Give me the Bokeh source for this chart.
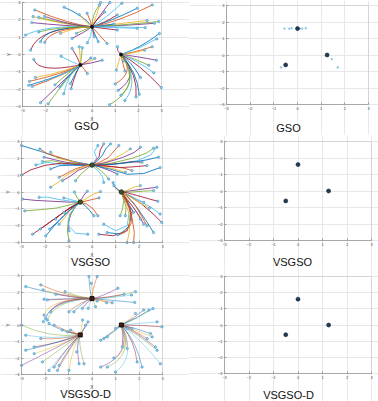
from bokeh.plotting import figure
from bokeh.layouts import column, row
from bokeh.models import FixedTicker, Label, BoxAnnotation
from bokeh.embed import file_html
from bokeh.resources import INLINE

# ---------------- data ----------------
peak_x = [0.0, -0.5, 1.25]
peak_y = [1.6, -0.6, 0.0]
ticks = [-3, -2, -1, 0, 1, 2, 3]
titles = ["GSO", "VSGSO", "VSGSO-D"]

# GSO: (start x, start y, bend x, bend y, target peak)
gso_paths = [
    (-1.2, 2.73, -0.3, 2.2, 0), (-2.47, 2.57, -1.0, 1.75, 0), (-2.54, 2.19, -1.2, 1.7, 0),
    (-2.6, 1.84, -1.2, 1.65, 0), (-2.3, 2.15, -1.0, 1.7, 0), (-2.87, 1.12, -2.0, 1.7, 0),
    (-2.65, 0.25, -2.3, 1.6, 0), (-2.22, 0.74, -2.0, 1.6, 0), (-2.04, 0.70, -1.8, 1.5, 0),
    (-1.36, 1.22, -0.6, 1.6, 0), (-0.86, 0.93, -0.3, 1.3, 0), (-0.67, 1.22, -0.2, 1.5, 0),
    (-0.2, 0.68, 0.0, 1.1, 0), (0.1, 1.03, 0.05, 1.3, 0), (0.27, 0.74, 0.1, 1.2, 0),
    (0.65, 0.64, 0.2, 1.3, 0), (0.37, 3.0, 0.2, 2.2, 0), (0.77, 3.0, 0.3, 2.2, 0),
    (0.32, 2.86, 0.0, 2.3, 0), (1.29, 2.96, 0.6, 2.1, 0), (1.09, 2.28, 0.5, 1.8, 0),
    (1.95, 2.67, 0.8, 1.9, 0), (2.6, 2.86, 1.2, 1.9, 0), (2.38, 1.96, 1.0, 1.75, 0),
    (2.7, 1.8, 1.2, 1.65, 0), (2.88, 1.9, 1.4, 1.7, 0), (1.95, 1.51, 0.9, 1.55, 0),
    (1.09, 1.41, 0.5, 1.5, 0), (0.94, 1.76, 0.4, 1.65, 0), (-0.21, 2.38, -0.05, 1.9, 0),
    (-0.55, 2.3, -0.2, 1.8, 0), (-2.05, 2.2, -1.0, 1.7, 0), (-2.3, 1.3, -1.5, 1.6, 0),
    (2.3, 1.55, 1.0, 1.6, 0), (0.55, 2.45, 0.15, 2.0, 0),
    (2.91, 1.21, 2.0, 0.3, 2), (2.6, 0.45, 1.8, 0.1, 2), (2.27, 0.25, 1.7, 0.05, 2),
    (2.78, -0.33, 1.9, -0.1, 2), (2.45, -0.62, 1.8, -0.2, 2), (2.67, -1.06, 1.9, -0.3, 2),
    (2.99, -1.91, 2.0, -0.5, 2), (2.09, -1.33, 1.7, -0.4, 2), (1.42, -0.95, 1.3, -0.4, 2),
    (1.37, -0.37, 1.3, -0.1, 2), (1.13, -2.07, 2.1, -1.2, 2), (0.76, -2.9, 2.2, -1.8, 2),
    (1.42, -2.65, 2.1, -1.5, 2), (1.9, -2.45, 2.0, -1.2, 2), (2.04, -2.3, 1.95, -1.0, 2),
    (1.0, -1.7, 1.9, -1.0, 2), (1.05, -0.9, 1.15, -0.4, 2), (1.1, 0.45, 1.05, 0.2, 2),
    (1.25, -2.35, 2.05, -1.4, 2), (2.8, 0.9, 2.0, 0.3, 2),
    (-2.51, -0.29, -2.3, -1.1, 1), (-2.73, -1.78, -1.2, -1.2, 1), (-2.58, -1.84, -1.2, -1.2, 1),
    (-2.44, -1.33, -1.2, -1.0, 1), (-2.22, -2.78, -1.0, -1.2, 1), (-1.89, -2.84, -1.0, -1.2, 1),
    (-1.22, -2.26, -1.0, -1.0, 1), (-0.9, -1.97, -0.7, -1.0, 1), (-0.93, -1.68, -0.65, -0.9, 1),
    (-0.2, -1.1, -0.35, -0.8, 1), (0.12, -0.23, -0.2, -0.5, 1), (0.44, -0.33, 0.0, -0.5, 1),
    (-0.42, 0.39, -0.45, -0.2, 1), (-1.33, -0.1, -0.8, -0.5, 1), (-0.86, 0.35, -0.6, -0.2, 1),
    (-1.39, -1.87, -0.9, -1.0, 1), (-2.7, -1.55, -1.2, -1.1, 1), (-0.55, 0.45, -0.5, -0.1, 1),
    (-0.05, -0.2, -0.25, -0.45, 1), (-1.6, -1.75, -1.0, -1.0, 1), (-2.0, -1.5, -1.1, -1.1, 1),
]

# VSGSO: wandering paths (waypoints), each ends at its target peak
vsgso_paths = [
    ([(-3, 2.76), (-2.2, 2.42), (-1.5, 2.08), (-0.8, 1.82)], 0),
    ([(-2.22, 2.56), (-1.9, 2.28), (-1.4, 2.07), (-0.7, 1.74)], 0),
    ([(-1.76, 2.36), (-1.5, 2.02), (-1.0, 1.86), (-0.5, 1.69)], 0),
    ([(-2.04, 2.07), (-1.6, 1.92), (-1.1, 1.76), (-0.5, 1.68)], 0),
    ([(-2.11, 1.81), (-1.7, 1.86), (-1.2, 1.71), (-0.6, 1.66)], 0),
    ([(-2.39, 1.61), (-1.9, 1.76), (-1.3, 1.64), (-0.7, 1.63)], 0),
    ([(-3, 1.01), (-2.6, 1.32), (-2.0, 1.58), (-1.3, 1.71), (-0.6, 1.62)], 0),
    ([(-1.76, 1.37), (-1.4, 1.56), (-0.9, 1.59), (-0.4, 1.58)], 0),
    ([(-1.4, 0.87), (-1.0, 1.17), (-0.7, 1.38), (-0.3, 1.55)], 0),
    ([(-1.76, 0.28), (-1.4, 0.62), (-1.1, 0.98), (-0.6, 1.36), (-0.25, 1.55)], 0),
    ([(-1.26, 0.67), (-0.9, 0.96), (-0.6, 1.28), (-0.2, 1.5)], 0),
    ([(-0.7, 0.67), (-0.5, 1.02), (-0.3, 1.28), (-0.1, 1.5)], 0),
    ([(0.25, 2.76), (0.1, 2.4), (0.2, 2.0), (0.05, 1.75)], 0),
    ([(0.5, 2.86), (0.35, 2.5), (0.3, 2.1), (0.1, 1.75)], 0),
    ([(0.79, 2.86), (0.6, 2.6), (0.45, 2.2), (0.2, 1.8)], 0),
    ([(1.14, 2.76), (0.95, 2.45), (0.7, 2.05), (0.3, 1.75)], 0),
    ([(1.63, 2.56), (1.35, 2.3), (0.9, 1.95), (0.4, 1.7)], 0),
    ([(2.06, 2.66), (1.8, 2.35), (1.3, 2.05), (0.6, 1.75)], 0),
    ([(2.62, 2.6), (2.3, 2.3), (1.7, 2.0), (0.8, 1.7)], 0),
    ([(2.76, 2.66), (2.5, 2.2), (1.9, 1.85), (0.9, 1.65)], 0),
    ([(2.13, 1.77), (1.7, 1.8), (1.2, 1.7), (0.5, 1.62)], 0),
    ([(2.83, 2.07), (2.3, 1.9), (1.6, 1.75), (0.7, 1.62)], 0),
    ([(1.7, 1.27), (1.4, 1.4), (1.0, 1.5), (0.4, 1.58)], 0),
    ([(1.42, 1.17), (1.1, 1.3), (0.7, 1.45), (0.3, 1.55)], 0),
    ([(1.07, 1.07), (0.8, 1.25), (0.5, 1.4), (0.2, 1.55)], 0),
    ([(0.71, 0.77), (0.55, 1.05), (0.35, 1.3), (0.15, 1.5)], 0),
    ([(0.5, 0.57), (0.45, 0.9), (0.3, 1.2), (0.1, 1.45)], 0),
    ([(2.34, 1.57), (1.8, 1.5), (1.2, 1.45), (0.5, 1.55)], 0),
    ([(2.9, 1.45), (2.2, 1.1), (1.5, 1.05), (0.8, 1.35)], 0),
    ([(0.93, 0.38), (1.0, 0.25), (1.1, 0.1)], 2),
    ([(2.06, 0.38), (1.8, 0.3), (1.5, 0.1)], 2),
    ([(2.76, 0.28), (2.3, 0.2), (1.8, 0.1), (1.45, 0.03)], 2),
    ([(2.62, 0.08), (2.2, 0.05), (1.7, 0.0)], 2),
    ([(2.9, -1.31), (2.5, -0.9), (2.0, -0.5), (1.5, -0.15)], 2),
    ([(2.97, -1.81), (2.6, -1.3), (2.1, -0.7), (1.55, -0.2)], 2),
    ([(2.62, -2.41), (2.3, -1.7), (1.9, -0.9), (1.5, -0.25)], 2),
    ([(2.34, -2.01), (2.1, -1.4), (1.8, -0.7), (1.45, -0.2)], 2),
    ([(2.06, -1.61), (1.85, -1.1), (1.6, -0.6), (1.4, -0.2)], 2),
    ([(1.77, -1.21), (1.6, -0.8), (1.45, -0.4)], 2),
    ([(1.42, -1.41), (1.45, -0.9), (1.35, -0.4)], 2),
    ([(0.5, -1.91), (1.0, -2.3), (1.5, -2.0), (1.6, -1.0), (1.35, -0.3)], 2),
    ([(0.29, -2.51), (0.9, -2.6), (1.5, -2.3), (1.7, -1.3), (1.4, -0.3)], 2),
    ([(0.64, -2.41), (1.2, -2.5), (1.6, -2.0), (1.65, -1.0), (1.35, -0.25)], 2),
    ([(1.77, -3.0), (1.8, -2.4), (1.7, -1.5), (1.5, -0.6)], 2),
    ([(1.49, -3.0), (1.6, -2.3), (1.6, -1.4), (1.4, -0.5)], 2),
    ([(2.2, -1.91), (2.0, -1.4), (1.7, -0.8), (1.4, -0.3)], 2),
    ([(1.2, -1.41), (1.3, -1.0), (1.35, -0.5)], 2),
    ([(2.2, -0.62), (1.9, -0.45), (1.6, -0.2)], 2),
    ([(2.8, -0.55), (2.4, -0.4), (1.9, -0.2), (1.5, -0.05)], 2),
    ([(0.9, 0.55), (0.95, 0.35), (1.1, 0.15)], 2),
    ([(1.1, -2.55), (1.4, -2.4), (1.7, -1.8), (1.6, -0.9), (1.35, -0.3)], 2),
    ([(2.45, -0.95), (2.1, -0.7), (1.7, -0.35)], 2),
    ([(-2.96, -0.42), (-2.4, -0.5), (-1.7, -0.55), (-1.0, -0.6)], 1),
    ([(-2.86, -1.12), (-2.2, -1.05), (-1.5, -0.95), (-0.9, -0.75)], 1),
    ([(-2.25, -0.32), (-1.9, -0.3), (-1.4, -0.45), (-0.9, -0.55)], 1),
    ([(-2.53, -2.51), (-2.0, -2.0), (-1.4, -1.4), (-0.9, -0.9)], 1),
    ([(-1.97, -2.61), (-1.6, -2.0), (-1.2, -1.4), (-0.8, -0.9)], 1),
    ([(-1.55, -1.61), (-1.3, -1.3), (-1.0, -1.0), (-0.7, -0.75)], 1),
    ([(-1.4, -1.91), (-1.15, -1.5), (-0.95, -1.1), (-0.7, -0.8)], 1),
    ([(-0.98, -2.31), (-1.0, -1.8), (-0.9, -1.3), (-0.7, -0.85)], 1),
    ([(-0.98, -2.9), (-1.05, -2.3), (-1.0, -1.6), (-0.75, -0.95)], 1),
    ([(-0.18, -2.51), (-0.7, -2.45), (-1.0, -2.0), (-0.95, -1.3), (-0.7, -0.85)], 1),
    ([(-1.19, -1.21), (-1.0, -1.0), (-0.75, -0.8)], 1),
    ([(0.08, -1.41), (-0.1, -1.1), (-0.3, -0.8)], 1),
    ([(0.25, -1.41), (0.05, -1.0), (-0.25, -0.7)], 1),
    ([(0.36, 0.02), (0.1, -0.1), (-0.2, -0.35)], 1),
    ([(-0.2, 0.05), (-0.35, -0.2), (-0.45, -0.45)], 1),
    ([(-0.75, 0.0), (-0.65, -0.3), (-0.55, -0.5)], 1),
    ([(-1.2, -0.35), (-0.9, -0.45), (-0.65, -0.55)], 1),
    ([(-2.2, -2.2), (-1.7, -1.7), (-1.2, -1.2), (-0.8, -0.85)], 1),
    ([(-1.8, -2.2), (-1.4, -1.7), (-1.05, -1.2), (-0.75, -0.85)], 1),
    ([(0.3, -0.35), (0.0, -0.45), (-0.3, -0.55)], 1),
]

# VSGSO-D: (start x, start y, bend x, bend y, target peak)
vsd_paths = [
    (-2.82, 2.33, -1.2, 1.7, 0), (-2.18, 2.43, -1.0, 1.7, 0), (-2.08, 2.13, -1.0, 1.65, 0),
    (-1.54, 1.86, -0.8, 1.65, 0), (-1.15, 2.02, -0.6, 1.7, 0), (-2.04, 1.56, -1.0, 1.6, 0),
    (-1.9, 1.52, -0.9, 1.6, 0), (-0.13, 2.94, -0.1, 2.0, 0), (0.22, 2.94, 0.0, 2.1, 0),
    (-0.03, 2.53, 0.05, 2.0, 0), (1.1, 2.23, 0.4, 1.7, 0), (1.85, 2.02, 0.8, 1.6, 0),
    (1.68, 1.82, 0.7, 1.6, 0), (1.36, 1.86, 0.6, 1.65, 0), (1.82, 1.37, 0.8, 1.5, 0),
    (0.86, 1.35, 0.4, 1.5, 0), (0.62, 1.35, 0.3, 1.5, 0), (0.22, 1.45, 0.1, 1.55, 0),
    (0.15, 1.11, 0.1, 1.4, 0), (-0.16, 1.01, -0.1, 1.35, 0), (-0.41, 1.01, -0.2, 1.4, 0),
    (-0.77, 0.8, -0.4, 1.4, 0), (-0.98, 0.8, -0.5, 1.4, 0),
    (-2.04, 0.6, -1.8, 1.6, 0), (-1.97, 0.4, -1.7, 1.55, 0), (-1.9, 0.3, -1.6, 1.5, 0),
    (-2.07, 0.2, -1.8, 1.5, 0), (-1.76, 0.8, -1.5, 1.6, 0),
    (-1.83, 0.09, -1.3, -0.4, 1), (-1.61, -0.01, -1.1, -0.4, 1), (-1.26, -0.31, -0.9, -0.5, 1),
    (-1.05, -0.41, -0.8, -0.5, 1), (-3.0, -0.01, -1.8, -0.8, 1), (-2.82, -0.62, -1.6, -0.9, 1),
    (-2.46, -1.33, -1.4, -1.1, 1), (-2.82, -1.53, -1.5, -1.1, 1), (-2.18, -0.82, -1.3, -0.9, 1),
    (-2.46, -1.74, -1.3, -1.2, 1), (-3.0, -2.45, -1.4, -1.3, 1), (-2.11, -2.24, -1.1, -1.2, 1),
    (-1.83, -2.75, -1.0, -1.3, 1), (-1.61, -2.55, -1.0, -1.2, 1), (-1.4, -2.45, -0.9, -1.2, 1),
    (-1.47, -2.75, -0.9, -1.3, 1), (-0.98, -2.75, -0.8, -1.2, 1), (-0.55, -2.35, -0.7, -1.1, 1),
    (-0.34, -2.35, -0.6, -1.0, 1), (-0.65, -1.63, -0.6, -1.0, 1), (-0.17, 0.19, -0.35, -0.3, 1),
    (-0.27, -0.01, -0.4, -0.35, 1), (-0.91, -0.31, -0.7, -0.5, 1), (-0.4, 0.3, -0.45, -0.2, 1),
    (0.37, -0.92, 0.9, -0.4, 2), (0.51, -0.82, 0.95, -0.4, 2), (0.65, -0.72, 1.0, -0.35, 2),
    (1.29, -1.33, 1.35, -0.6, 2), (1.0, -0.21, 1.1, -0.1, 2), (1.5, -0.21, 1.4, -0.1, 2),
    (1.85, 0.7, 1.6, 0.3, 2), (2.2, 0.91, 1.8, 0.4, 2), (2.42, 0.91, 1.9, 0.35, 2),
    (2.77, 0.19, 2.0, 0.1, 2), (2.98, -0.11, 2.1, 0.0, 2), (2.49, -0.52, 1.9, -0.2, 2),
    (2.35, -0.82, 1.8, -0.3, 2), (2.56, -0.72, 1.9, -0.3, 2), (2.7, -1.33, 2.0, -0.5, 2),
    (2.77, -1.53, 2.0, -0.6, 2), (2.91, -2.35, 2.1, -0.9, 2), (1.92, -2.24, 1.8, -0.9, 2),
    (2.13, -2.55, 1.9, -1.0, 2), (1.5, -1.43, 1.5, -0.6, 2), (0.93, -2.0, 1.7, -1.4, 2),
    (0.37, -2.55, 1.7, -1.8, 2), (0.65, -2.55, 1.8, -1.8, 2), (1.0, -2.85, 1.9, -1.9, 2),
    (1.71, -0.21, 1.5, -0.1, 2), (2.6, 1.0, 1.9, 0.4, 2),
]

# right-hand panels: final particle positions
gso_final_x = [0.0, -0.5, 1.25, -0.55, -0.35, -0.25, 0.1, 0.2, 0.35, 1.45, 1.7, -0.7]
gso_final_y = [1.6, -0.6, 0.0, 1.6, 1.6, 1.62, 1.6, 1.6, 1.62, -0.25, -0.75, -0.75]
gso_final_big = [1, 1, 1, 0, 0, 0, 0, 0, 0, 0, 0, 0]
vsgso_final_x = [0.0, -0.5, 1.25, 1.2]
vsgso_final_y = [1.6, -0.6, 0.0, 0.03]
vsgso_final_big = [1, 1, 1, 0]
vsd_final_x = [0.0, -0.5, 1.25]
vsd_final_y = [1.6, -0.6, 0.0]
vsd_final_big = [1, 1, 1]

# ---------------- style / layout ----------------
PAL = ["#0072BD", "#D95319", "#EDB120", "#7E2F8E", "#77AC30", "#4DBEEE", "#A2142F"]
FONT = "Liberation Sans"
CELL_W = 189
ROW_H = [135, 133, 133]
# axes box inside each cell in pixels: (left, right, top, bottom)
BOX = [
    [(22, 161, 2, 106), (37, 179, 5, 104)],
    [(21, 162, 6, 107), (35, 182, 6, 105)],
    [(21, 162, 7, 106), (35, 182, 8, 105)],
]
# title centre inside each cell (pixels)
TPOS = [[(86, 125), (99, 127)], [(90, 126), (103, 126)], [(85, 125), (99, 126)]]


def make_fig(h, box, labels, title, tpos):
    bl, br, bt, bb = box
    kx = (br - bl) / 6.0
    ky = (bb - bt) / 6.0
    xr = (-3 - bl / kx, 3 + (CELL_W - br) / kx)
    yr = (-3 - (h - bb) / ky, 3 + bt / ky)
    p = figure(frame_width=CELL_W, frame_height=h, x_range=xr, y_range=yr,
               min_border=0, output_backend="svg", toolbar_location=None,
               background_fill_color="white", border_fill_color="white")
    p.outline_line_color = None
    p.grid.ticker = FixedTicker(ticks=ticks)
    p.grid.bounds = (-3, 3)
    p.grid.grid_line_color = "#e2e2e2"
    p.grid.grid_line_width = 0.8
    p.add_layout(BoxAnnotation(left=-3, right=3, bottom=-3, top=3, fill_alpha=0,
                               line_color="#9a9a9a", line_width=0.8, level="underlay"))
    for ax in (p.below[0], p.left[0]):
        ax.fixed_location = -3
        ax.bounds = (-3, 3)
        ax.ticker = FixedTicker(ticks=ticks)
        ax.major_label_text_font_size = "4px"
        ax.major_label_text_color = "#4a4a4a"
        ax.major_label_text_font = FONT
        ax.major_label_standoff = 2
        ax.major_tick_in = 2
        ax.major_tick_out = 0
        ax.minor_tick_line_color = None
        ax.axis_line_color = "#9a9a9a"
        ax.axis_line_width = 0.8
        ax.major_tick_line_color = "#9a9a9a"
        ax.axis_label_text_font_size = "5px"
        ax.axis_label_text_font = FONT
        ax.axis_label_text_font_style = "normal"
        ax.axis_label_text_color = "#4a4a4a"
        ax.axis_label_standoff = 1
    if labels:
        p.below[0].axis_label = "X"
        p.left[0].axis_label = "Y"
    tx = -3 + (tpos[0] - bl) / kx
    ty = 3 - (tpos[1] - bt) / ky
    p.add_layout(Label(x=tx, y=ty, text=title, text_align="center", text_baseline="middle",
                       text_font_size="11px", text_font=FONT, text_color="#111111"))
    return p


def quad_panel(p, paths, lw, alpha):
    sx = [q[0] for q in paths]
    sy = [q[1] for q in paths]
    cx = [q[2] for q in paths]
    cy = [q[3] for q in paths]
    ex = [peak_x[q[4]] for q in paths]
    ey = [peak_y[q[4]] for q in paths]
    cols = [PAL[i % len(PAL)] for i in range(len(paths))]
    p.quadratic(x0=sx, y0=sy, x1=ex, y1=ey, cx=cx, cy=cy, line_color=cols, line_width=lw, line_alpha=alpha)
    return sx, sy


def start_marks(p, sx, sy, size):
    p.scatter(sx, sy, size=size, fill_color="#8fd0ea", line_color="#2f86c0", line_width=0.5)


# GSO
p1 = make_fig(ROW_H[0], BOX[0][0], True, titles[0], TPOS[0][0])
sx, sy = quad_panel(p1, gso_paths, 0.9, 0.95)
start_marks(p1, sx, sy, 2.4)
p1.scatter(peak_x, peak_y, size=3, color="#111111")
p2 = make_fig(ROW_H[0], BOX[0][1], False, titles[0], TPOS[0][1])

# VSGSO
p3 = make_fig(ROW_H[1], BOX[1][0], True, titles[1], TPOS[1][0])
xs = [[pt[0] for pt in pts] + [peak_x[t]] for pts, t in vsgso_paths]
ys = [[pt[1] for pt in pts] + [peak_y[t]] for pts, t in vsgso_paths]
p3.multi_line(xs, ys, line_color=[PAL[i % len(PAL)] for i in range(len(xs))], line_width=0.9, line_alpha=0.95)
start_marks(p3, [v[0] for v in xs], [v[0] for v in ys], 2.4)
p3.scatter(peak_x, peak_y, size=4.5, fill_color="#3d5a1e", line_color="#222222", line_width=0.8)
p4 = make_fig(ROW_H[1], BOX[1][1], False, titles[1], TPOS[1][1])

# VSGSO-D
p5 = make_fig(ROW_H[2], BOX[2][0], True, titles[2], TPOS[2][0])
sx, sy = quad_panel(p5, vsd_paths, 0.7, 0.7)
start_marks(p5, sx, sy, 2.4)
p5.scatter(peak_x, peak_y, size=4, marker="square", fill_color="#4a1a10", line_color="#111111")
p6 = make_fig(ROW_H[2], BOX[2][1], False, titles[2], TPOS[2][1])

for p, fx, fy, big in ((p2, gso_final_x, gso_final_y, gso_final_big),
                       (p4, vsgso_final_x, vsgso_final_y, vsgso_final_big),
                       (p6, vsd_final_x, vsd_final_y, vsd_final_big)):
    bx = [x for x, b in zip(fx, big) if b]
    by = [y for y, b in zip(fy, big) if b]
    sxs = [x for x, b in zip(fx, big) if not b]
    sys_ = [y for y, b in zip(fy, big) if not b]
    if sxs:
        p.scatter(sxs, sys_, size=1.8, fill_color="#9fd3e6", line_color="#5fa8c8", line_width=0.4)
    p.scatter(bx, by, size=4, fill_color="#1d3b55", line_color="#0d2238", line_width=0.6)

layout = column(row(p1, p2), row(p3, p4), row(p5, p6))
open("out.html", "w").write(file_html(layout, INLINE))
